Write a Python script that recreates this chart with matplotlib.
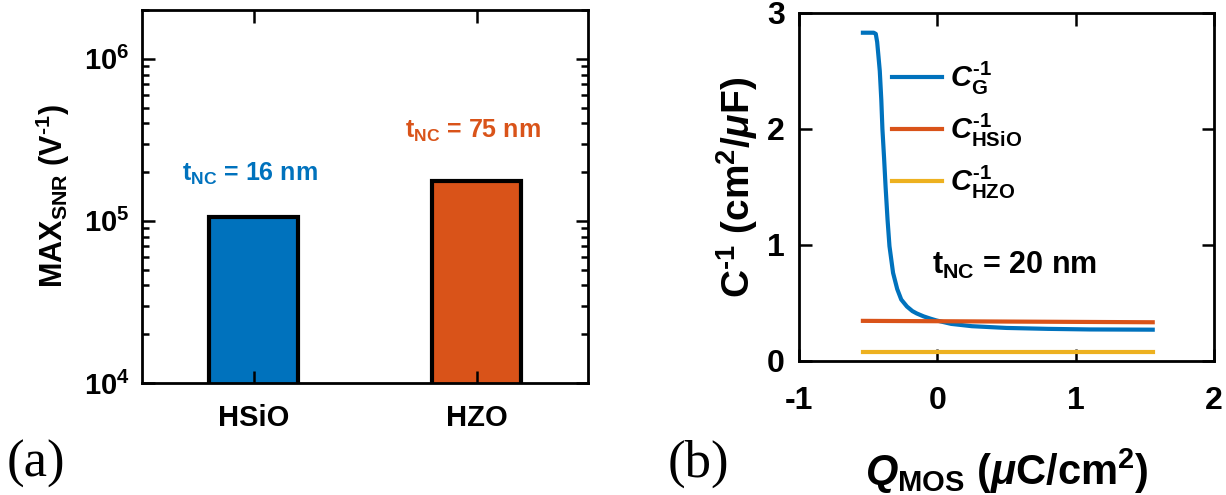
import matplotlib
matplotlib.use('Agg')
import matplotlib.pyplot as plt
from matplotlib.ticker import LogLocator, NullFormatter, FixedLocator

# (a) MAX SNR par matériau
categories = ['HSiO', 'HZO']
max_snr = [1.06e5, 1.76e5]
bar_colors = ['#0072BD', '#D95319']
tnc_labels = [r't$_{\mathrm{NC}}$ = 16 nm', r't$_{\mathrm{NC}}$ = 75 nm']
tnc_label_y = [1.78e5, 3.27e5]

# (b) C^-1 en fonction de Q_MOS
q_g = [-0.538, -0.46, -0.445, -0.435, -0.425, -0.416, -0.405, -0.397, -0.385,
       -0.374, -0.36, -0.346, -0.32, -0.29, -0.261, -0.22, -0.18, -0.149,
       -0.10, -0.05, -0.008, 0.1, 0.25, 0.5, 0.8, 1.1, 1.557]
cinv_g = [2.83, 2.83, 2.82, 2.75, 2.62, 2.50, 2.25, 2.00, 1.75,
          1.50, 1.22, 0.99, 0.76, 0.62, 0.53, 0.47, 0.43, 0.41,
          0.385, 0.365, 0.35, 0.32, 0.30, 0.285, 0.277, 0.272, 0.27]
q_ox = [-0.538, 1.557]
cinv_hsio = [0.346, 0.334]
cinv_hzo = [0.078, 0.078]
line_colors = ['#0072BD', '#D95319', '#EDB120']
line_labels = [r'$C^{\text{-1}}_{\mathrm{G}}$', r'$C^{\text{-1}}_{\mathrm{HSiO}}$',
               r'$C^{\text{-1}}_{\mathrm{HZO}}$']

plt.rcParams['font.family'] = ['Liberation Sans', 'DejaVu Sans']
plt.rcParams['font.weight'] = 'bold'
plt.rcParams['axes.labelweight'] = 'bold'
plt.rcParams['axes.unicode_minus'] = False
plt.rcParams['mathtext.fontset'] = 'custom'
plt.rcParams['mathtext.rm'] = 'Liberation Sans:bold'
plt.rcParams['mathtext.it'] = 'Liberation Sans:italic:bold'
plt.rcParams['mathtext.bf'] = 'Liberation Sans:bold'
plt.rcParams['axes.linewidth'] = 2.0

fig = plt.figure(figsize=(12.26, 4.95), dpi=100)

# ---- panneau (a)
ax1 = fig.add_axes([142/1226, 1-383/495, 446/1226, 373/495])
x = [1, 2]
ax1.bar(x, max_snr, width=0.4, color=bar_colors, edgecolor='black', linewidth=3, zorder=1)
ax1.set_yscale('log')
ax1.set_xlim(0.5, 2.5)
ax1.set_ylim(1e4, 2e6)
ax1.set_xticks(x)
ax1.set_xticklabels(categories, fontsize=21)
ax1.yaxis.set_major_locator(FixedLocator([1e4, 1e5, 1e6]))
ax1.set_yticklabels([r'$10^{4}$', r'$10^{5}$', r'$10^{6}$'], fontsize=21)
ax1.yaxis.set_minor_locator(LogLocator(base=10, subs=range(2, 10)))
ax1.yaxis.set_minor_formatter(NullFormatter())
ax1.tick_params(which='both', direction='in', top=True, right=True, width=1.8)
ax1.tick_params(which='major', length=9)
ax1.tick_params(which='minor', length=5)
ax1.tick_params(axis='x', pad=15)
ax1.tick_params(axis='y', pad=9)
ax1.set_ylabel(r'MAX$_{\mathrm{SNR}}$ (V$^{\text{-1}}$)', fontsize=22)
ax1.yaxis.set_label_coords(-0.158, 0.5)
for xi, lab, yl, c in zip(x, tnc_labels, tnc_label_y, bar_colors):
    ax1.text(xi - 0.015, yl, lab, color=c, fontsize=18, ha='center', va='baseline')

# ---- panneau (b)
ax2 = fig.add_axes([799/1226, 1-361/495, 415/1226, 348/495])
ax2.plot(q_g, cinv_g, color=line_colors[0], lw=3, label=line_labels[0])
ax2.plot(q_ox, cinv_hsio, color=line_colors[1], lw=3, label=line_labels[1])
ax2.plot(q_ox, cinv_hzo, color=line_colors[2], lw=3, label=line_labels[2])
ax2.set_xlim(-1, 2)
ax2.set_ylim(0, 3)
ax2.set_xticks([-1, 0, 1, 2])
ax2.set_yticks([0, 1, 2, 3])
ax2.tick_params(which='both', direction='in', top=True, right=True, width=1.8,
                length=9, labelsize=23)
ax2.tick_params(axis='x', pad=18)
ax2.tick_params(axis='y', pad=10)
ax2.set_ylabel(r'C$^{\text{-1}}$ (cm$^{2}$/$\mu$F)', fontsize=28)
ax2.yaxis.set_label_coords(-0.094, 0.5)
ax2.set_xlabel(r'$Q_{\mathrm{MOS}}$ ($\mu$C/cm$^{2}$)', fontsize=30)
ax2.xaxis.set_label_coords(0.5, -0.245)
ax2.text(-0.036, 0.755, r't$_{\mathrm{NC}}$ = 20 nm', fontsize=22, va='baseline')
ax2.legend(loc='upper left', bbox_to_anchor=(0.224, 0.865), frameon=False,
           fontsize=21, handlelength=1.7, handletextpad=0.3, labelspacing=0.5,
           borderaxespad=0, borderpad=0)

fig.text(7/1226, 1-440/495, '(a)', family='Liberation Serif', weight='normal',
         fontsize=38, va='top')
fig.text(668/1226, 1-440/495, '(b)', family='Liberation Serif', weight='normal',
         fontsize=38, va='top')

fig.savefig('out.png', dpi=100)
